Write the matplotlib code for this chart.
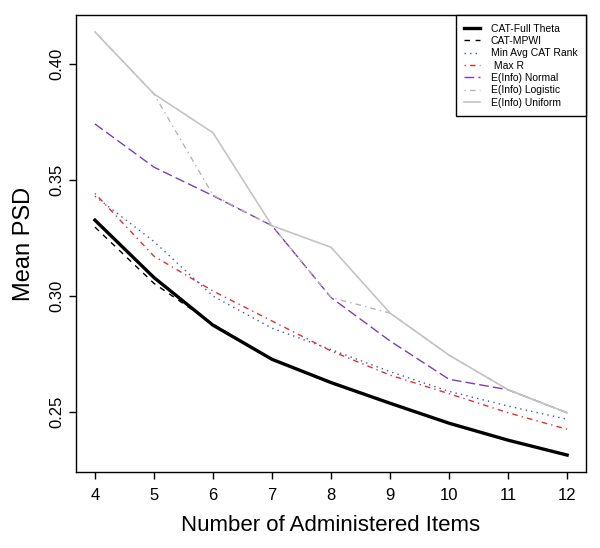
import matplotlib.pyplot as plt
import numpy as np

plt.rcParams['font.family'] = ['Liberation Sans', 'DejaVu Sans']

# Number of administered items
items = [4, 5, 6, 7, 8, 9, 10, 11, 12]

# Mean PSD per selection method
full_theta = [0.3327, 0.3080, 0.2875, 0.2728, 0.2628, 0.2539, 0.2453, 0.2380, 0.2316]
mpwi = [0.3297, 0.3055, 0.2880, 0.2728, 0.2625, 0.2539, 0.2453, 0.2380, 0.2318]
min_avg_rank = [0.3430, 0.3235, 0.3000, 0.2862, 0.2770, 0.2675, 0.2590, 0.2527, 0.2470]
max_r = [0.3442, 0.3172, 0.3022, 0.2893, 0.2764, 0.2660, 0.2580, 0.2498, 0.2427]
einfo_normal = [0.3741, 0.3555, 0.3432, 0.3303, 0.2994, 0.2807, 0.2642, 0.2597, 0.2498]
einfo_logistic = [0.4137, 0.3870, 0.3435, 0.3303, 0.2994, 0.2927, 0.2746, 0.2597, 0.2498]
einfo_uniform = [0.4137, 0.3870, 0.3703, 0.3303, 0.3210, 0.2927, 0.2746, 0.2597, 0.2498]

fig = plt.figure(figsize=(6, 5.48), dpi=100)
ax = fig.add_axes([0.1267, 0.1387, 0.85, 0.834])

ax.plot(items, full_theta, color='black', lw=2.4, label='CAT-Full Theta')
ax.plot(items, mpwi, color='black', lw=1, dashes=(4, 4), label='CAT-MPWI')
ax.plot(items, min_avg_rank, color='#3557b8', lw=1, dashes=(1, 3), label='Min Avg CAT Rank')
ax.plot(items, max_r, color='#e0302a', lw=1, dashes=(1, 3, 4, 3), label=' Max R')
ax.plot(items, einfo_normal, color='#7a3cc0', lw=1, dashes=(7, 3), label='E(Info) Normal')
ax.plot(items, einfo_logistic, color='#b4b4b4', lw=1, dashes=(1, 3, 4, 3), label='E(Info) Logistic')
ax.plot(items, einfo_uniform, color='#c4c4c4', lw=1.2, label='E(Info) Uniform')

# R-style axes: 4% padding, no grid
ymin = min(full_theta + mpwi)
ymax = max(einfo_uniform)
pad = (ymax - ymin) * 0.04
ax.set_xlim(3.68, 12.32)
ax.set_ylim(ymin - pad, ymax + pad)
ax.set_xticks(items)
ax.set_yticks([0.25, 0.30, 0.35, 0.40])
ax.set_yticklabels(['0.25', '0.30', '0.35', '0.40'], rotation=90, va='center')
ax.tick_params(labelsize=12, length=5, width=1)
ax.tick_params(axis='x', pad=6.5)
ax.tick_params(axis='y', pad=3.5)
for s in ax.spines.values():
    s.set_linewidth(1)

ax.set_xlabel('Number of Administered Items', fontsize=16, labelpad=9)
ax.set_ylabel('Mean PSD', fontsize=17, labelpad=10)

leg = ax.legend(loc='upper right', bbox_to_anchor=(1, 1), borderaxespad=0,
                fontsize=7.5, fancybox=False, framealpha=1, edgecolor='black',
                handlelength=1.5, handletextpad=1.0, labelspacing=0.22,
                borderpad=0.85)
leg.get_frame().set_linewidth(1)

plt.savefig('out.png', dpi=100)
